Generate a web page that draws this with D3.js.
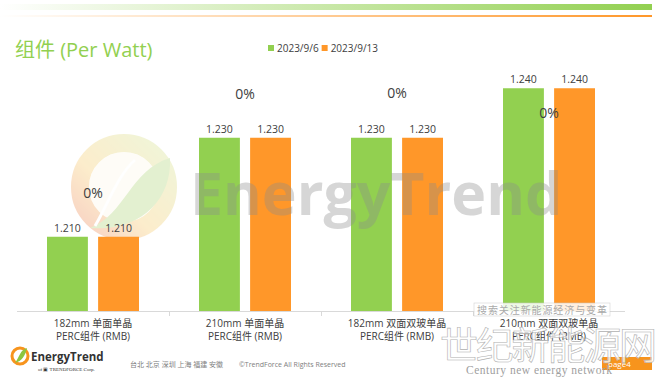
<!DOCTYPE html>
<html>
<head>
<meta charset="utf-8">
<script src="https://cdn.jsdelivr.net/npm/d3@7"></script>
<style>
  html, body { margin: 0; padding: 0; background: #ffffff; }
</style>
</head>
<body>
<svg id="chart"></svg>
<script>
// data
const categories = ["182mm 单面单晶|PERC组件 (RMB)", "210mm 单面单晶|PERC组件 (RMB)", "182mm 双面双玻单晶|PERC组件 (RMB)", "210mm 双面双玻单晶|PERC组件 (RMB)"];
const seriesNames = ["2023/9/6", "2023/9/13"];
const values96 = [1.210, 1.230, 1.230, 1.240];
const values913 = [1.210, 1.230, 1.230, 1.240];
const changeLabels = ["0%", "0%", "0%", "0%"];

const COLORS = { "2023/9/6": "#92D050", "2023/9/13": "#FF9729" };
const FONT = '"Open Sans", "Noto Sans CJK SC", sans-serif';
const outerW = 659; const outerH = 378;
const svg = d3.select("#chart").attr("width", outerW).attr("height", outerH).style("font-family", FONT);
const defs = svg.append("defs");

// header strips
const gG = defs.append("linearGradient").attr("id", "hdrGreen");
gG.append("stop").attr("offset", "0%").attr("stop-color", "#ffffff");
gG.append("stop").attr("offset", "100%").attr("stop-color", "#92D050");
const gO = defs.append("linearGradient").attr("id", "hdrOrange");
gO.append("stop").attr("offset", "0%").attr("stop-color", "#ffffff");
gO.append("stop").attr("offset", "100%").attr("stop-color", "#FF9729");
svg.append("rect").attr("x", 0).attr("y", 4).attr("width", 652).attr("height", 6).attr("fill", "url(#hdrGreen)");
svg.append("rect").attr("x", 0).attr("y", 15).attr("width", 652).attr("height", 2).attr("fill", "url(#hdrOrange)");

svg.append("text").attr("x", 15).attr("y", 57).attr("font-size", 20).attr("fill", "#92D050").text("组件 (Per Watt)");

// legend
const legend = svg.append("g").attr("transform", "translate(268,48)");
let lx = 0;
seriesNames.forEach(s => {
  legend.append("rect").attr("x", lx).attr("y", -3).attr("width", 6).attr("height", 6).attr("fill", COLORS[s]);
  const t = legend.append("text").attr("x", lx + 9).attr("y", 3.5).attr("font-size", 10).attr("fill", "#404040").text(s);
  lx += 9 + t.node().getComputedTextLength() + 3;
});

// scales
const baseY = 311;
const x0 = d3.scaleBand().domain(categories).range([17, 625]).padding(0);
const x1 = d3.scaleBand().domain(seriesNames).range([30, 122]).paddingInner(0.2);
const y = d3.scaleLinear().domain([1.195, 1.25]).range([baseY, 38.75]);

const rows = categories.map((c, i) => ({ cat: c, "2023/9/6": values96[i], "2023/9/13": values913[i], change: changeLabels[i] }));

// watermark logo (behind bars)
const wm = svg.append("g").attr("opacity", 0.28);
const ring = defs.append("linearGradient").attr("id", "ringGrad").attr("x1", "0%").attr("y1", "100%").attr("x2", "100%").attr("y2", "0%");
ring.append("stop").attr("offset", "0%").attr("stop-color", "#E8602A");
ring.append("stop").attr("offset", "40%").attr("stop-color", "#F6C04A");
ring.append("stop").attr("offset", "100%").attr("stop-color", "#C8DE78");
wm.append("circle").attr("cx", 124).attr("cy", 187).attr("r", 44).attr("fill", "none").attr("stroke", "url(#ringGrad)").attr("stroke-width", 18);
wm.append("circle").attr("cx", 124).attr("cy", 187).attr("r", 35).attr("fill", "#FBEFC8").attr("opacity", 0.5);
wm.append("path").attr("d", "M 90 228 C 125 215, 130 170, 170 158 C 172 200, 140 232, 90 228 Z").attr("fill", "#9CCB5A");
wm.append("path").attr("d", "M 95 226 C 110 200, 118 175, 135 160").attr("fill", "none").attr("stroke", "#ffffff").attr("stroke-width", 3);

const root = svg.append("g");
const groups = root.selectAll("g.cat").data(rows).join("g").attr("class", "cat").attr("transform", d => `translate(${x0(d.cat)},0)`);

groups.selectAll("rect.bar").data(d => seriesNames.map(s => ({ s, v: d[s] }))).join("rect").attr("class", "bar")
  .attr("x", d => x1(d.s)).attr("width", x1.bandwidth())
  .attr("y", d => y(d.v)).attr("height", d => baseY - y(d.v))
  .attr("fill", d => COLORS[d.s]);

groups.selectAll("text.val").data(d => seriesNames.map(s => ({ s, v: d[s] }))).join("text").attr("class", "val")
  .attr("x", d => x1(d.s) + x1.bandwidth() / 2).attr("y", d => y(d.v) - 5)
  .attr("text-anchor", "middle").attr("font-size", 10.5).attr("fill", "#404040")
  .text(d => d3.format(".3f")(d.v));

// change labels (placed like the original slide: above for first three, inside the last)
const changeDy = [-39, -39, -40, 30];
groups.append("text").attr("class", "chg")
  .attr("x", 76).attr("y", (d, i) => y(Math.max(d["2023/9/6"], d["2023/9/13"])) + changeDy[i])
  .attr("text-anchor", "middle").attr("font-size", 14).attr("fill", "#404040").text(d => d.change);

// axis
root.append("line").attr("x1", 17).attr("x2", 625).attr("y1", baseY + 0.5).attr("y2", baseY + 0.5).attr("stroke", "#D9D9D9");
x0.domain().forEach((c, i) => {
  if (i === 0) return;
  const xx = Math.round(x0(c)) + 0.5;
  root.append("line").attr("x1", xx).attr("x2", xx).attr("y1", baseY).attr("y2", baseY + 5).attr("stroke", "#D9D9D9");
});
groups.each(function(d) {
  const lines = d.cat.split("|");
  const g = d3.select(this);
  lines.forEach((ln, k) => {
    g.append("text").attr("x", 76).attr("y", 327 + k * 13).attr("text-anchor", "middle").attr("font-size", 10).attr("fill", "#404040").text(ln);
  });
});

// big EnergyTrend watermark over the bars
svg.append("text").attr("x", 190).attr("y", 215).attr("font-size", 59)
  .style("font-family", '"Open Sans", sans-serif').style("font-weight", "bold")
  .attr("fill", "#8C8C8C").attr("opacity", 0.35).text("EnergyTrend");

// footer
const logo = svg.append("g");
logo.append("circle").attr("cx", 20).attr("cy", 356).attr("r", 8).attr("fill", "none").attr("stroke", "#F7941D").attr("stroke-width", 3);
logo.append("path").attr("d", "M 15 363 C 20 356, 20 350, 27 348 C 25 356, 22 361, 15 363 Z").attr("fill", "#8DC63F");
logo.append("text").attr("x", 31).attr("y", 361).attr("font-size", 11.5).attr("font-weight", "bold").attr("fill", "#333").text("EnergyTrend");
logo.append("text").attr("x", 38).attr("y", 371).attr("font-size", 5).style("font-family", '"Liberation Serif", serif').attr("fill", "#333").text("of ▣ TRENDFORCE Corp.");
svg.append("text").attr("x", 130).attr("y", 367).attr("font-size", 7).attr("fill", "#808080").text("台北 北京 深圳 上海 福建 安徽");
svg.append("text").attr("x", 239).attr("y", 367).attr("font-size", 7).attr("fill", "#808080").text("©TrendForce All Rights Reserved");

// third-party watermark overlay
svg.append("rect").attr("x", 474).attr("y", 303).attr("width", 136).attr("height", 13).attr("fill", "#ffffff").attr("opacity", 0.85).attr("stroke", "#cccccc").attr("stroke-width", 0.6);
svg.append("text").attr("x", 477).attr("y", 313.5).attr("font-size", 10).attr("fill", "#aaaaaa").attr("textLength", 130).text("搜索关注新能源经济与变革");
svg.append("rect").attr("x", 602).attr("y", 357).attr("width", 50).attr("height", 13).attr("fill", "#F7941D");
svg.append("text").attr("x", 608).attr("y", 367).attr("font-size", 8).attr("fill", "#ffffff").text("page4");
svg.append("text").attr("x", 440).attr("y", 359).attr("font-size", 38).style("font-family", '"Noto Sans CJK SC", sans-serif')
  .attr("fill", "#ffffff").attr("fill-opacity", 0.75).attr("stroke", "#b0b0b0").attr("stroke-width", 0.6).attr("textLength", 217).text("世纪新能源网");
svg.append("text").attr("x", 466).attr("y", 374).attr("font-size", 11.5).style("font-family", '"Liberation Serif", serif')
  .attr("fill", "#a0a0a0").attr("textLength", 146).text("Century new energy network");
</script>
</body>
</html>
